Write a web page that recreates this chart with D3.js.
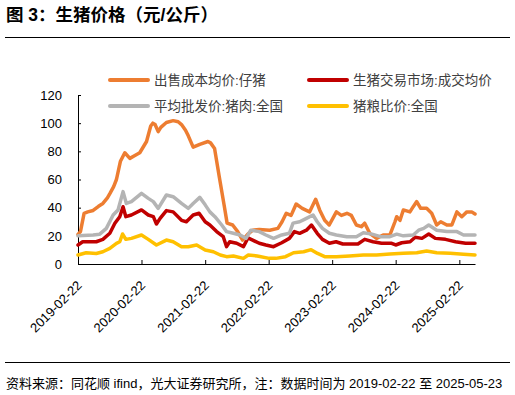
<!DOCTYPE html>
<html>
<head>
<meta charset="utf-8">
<script src="https://cdn.jsdelivr.net/npm/d3@7"></script>
<style>
  body { margin: 0; background: #fff; }
  text { font-family: "Liberation Sans", Arial, "Noto Sans CJK SC", sans-serif; }
</style>
</head>
<body>
<div id="chart"></div>
<script>
// series names (legend order)
const seriesNames = ["出售成本均价:仔猪", "生猪交易市场:成交均价", "平均批发价:猪肉:全国", "猪粮比价:全国"];
const seriesColors = ["#ED7D31", "#C00000", "#B4B4B4", "#FFC000"];

// values, [date, value]
const pigletCost = [
  ["2019-02-22",21],["2019-03-08",23],["2019-03-29",36],["2019-04-19",37],["2019-05-20",38],
  ["2019-06-20",41],["2019-07-15",43],["2019-08-10",47],["2019-08-24",50],["2019-09-15",55],
  ["2019-10-01",60],["2019-10-24",73],["2019-11-18",79],["2019-12-17",75],["2020-01-15",77],
  ["2020-02-12",79],["2020-03-22",87],["2020-04-15",98],["2020-04-27",100],["2020-05-10",99],
  ["2020-05-28",94],["2020-06-12",97],["2020-07-14",100.5],["2020-08-22",101.8],["2020-09-20",101],
  ["2020-10-09",99],["2020-11-01",95],["2020-11-17",91],["2020-12-15",83],["2021-01-22",85],
  ["2021-03-10",87],["2021-03-25",86],["2021-04-17",82],["2021-05-14",62],["2021-06-12",41],
  ["2021-06-28",29],["2021-07-30",27.7],["2021-08-28",23],["2021-09-25",17],["2021-10-24",21],
  ["2021-11-22",24],["2021-12-30",24.5],["2022-02-28",24],["2022-04-16",25.3],["2022-05-10",30],
  ["2022-06-03",36],["2022-07-01",34.5],["2022-07-30",42.6],["2022-09-03",39.5],["2022-10-15",37],
  ["2022-11-19",46],["2022-12-12",38.4],["2023-01-10",31],["2023-02-05",27.7],["2023-03-18",37],
  ["2023-04-16",34.5],["2023-05-18",36],["2023-06-12",34.5],["2023-07-11",27.7],["2023-08-09",26.5],
  ["2023-08-28",29],["2023-09-26",21.8],["2023-11-04",18.2],["2023-12-12",20.6],["2024-01-20",20.6],
  ["2024-02-18",30],["2024-02-28",33.6],["2024-03-18",31],["2024-04-06",38.4],["2024-05-14",37],
  ["2024-06-02",40.7],["2024-06-22",44.3],["2024-07-15",39.5],["2024-08-18",39.5],["2024-09-16",36],
  ["2024-10-15",27.7],["2024-11-07",30],["2024-12-12",27.7],["2025-01-10",27.7],["2025-02-08",37],
  ["2025-03-08",33.6],["2025-04-06",37],["2025-05-04",37],["2025-05-23",35.5]
];

const marketPrice = [
  ["2019-02-22",13.5],["2019-03-21",15.8],["2019-06-07",15.8],["2019-07-15",17.5],["2019-08-24",21.8],
  ["2019-09-22",28.9],["2019-10-20",33.6],["2019-11-08",40.7],["2019-11-24",33.6],["2019-12-26",34.8],
  ["2020-02-22",38.4],["2020-04-01",34.8],["2020-04-30",33.6],["2020-05-18",28.4],["2020-06-08",32.4],
  ["2020-07-14",37.9],["2020-08-22",37],["2020-10-09",31],["2020-11-06",30],["2020-12-15",34.8],
  ["2021-01-18",36],["2021-02-22",30],["2021-03-21",27.7],["2021-04-29",23],["2021-06-06",19.4],
  ["2021-06-25",12.3],["2021-07-13",15.8],["2021-08-22",14.7],["2021-09-30",12.3],["2021-10-26",18.5],
  ["2021-11-22",17],["2021-12-30",14.7],["2022-02-06",13.5],["2022-03-22",12.3],["2022-05-08",15.1],
  ["2022-06-21",18.2],["2022-07-20",23],["2022-08-19",21.8],["2022-09-27",24],["2022-10-26",27.7],
  ["2022-11-28",21.8],["2022-12-28",17.5],["2023-02-06",14.7],["2023-03-16",15.8],["2023-04-24",14.2],
  ["2023-07-20",14.2],["2023-08-28",17.5],["2023-10-15",15.8],["2023-12-03",14.7],["2024-01-30",14.7],
  ["2024-02-22",13.5],["2024-03-28",15.1],["2024-05-15",15.8],["2024-06-13",19],["2024-07-22",18.2],
  ["2024-08-30",21.3],["2024-10-07",18.2],["2024-12-04",17.5],["2025-01-31",15.8],["2025-03-30",14.7],
  ["2025-05-23",14.7]
];

const porkWholesale = [
  ["2019-02-22",20],["2019-05-20",20.6],["2019-06-27",21.2],["2019-08-04",25.3],["2019-09-12",34.8],
  ["2019-10-10",38.4],["2019-11-08",51.4],["2019-11-27",43],["2019-12-26",44.3],["2020-02-22",50.2],
  ["2020-04-01",46.6],["2020-04-30",44.3],["2020-05-28",39.5],["2020-07-14",49],["2020-08-22",47.8],
  ["2020-10-09",43],["2020-11-17",39.5],["2020-12-15",43],["2021-01-22",47.3],["2021-02-22",42],
  ["2021-03-21",37],["2021-04-19",33.6],["2021-05-28",27.7],["2021-06-25",23],["2021-08-03",21.8],
  ["2021-09-11",20.6],["2021-10-15",18.2],["2021-11-11",24],["2021-12-30",23],["2022-02-06",20.6],
  ["2022-03-22",18.2],["2022-05-08",20.6],["2022-06-21",21.8],["2022-07-12",29],["2022-08-19",30],
  ["2022-09-27",32.4],["2022-11-04",34.8],["2022-11-28",30],["2022-12-28",25.3],["2023-02-06",21.8],
  ["2023-03-18",20.6],["2023-05-17",19.4],["2023-07-11",19.4],["2023-08-20",22.2],["2023-10-09",21.2],
  ["2023-11-27",19.4],["2024-01-20",19.4],["2024-02-28",21.2],["2024-04-06",20],["2024-06-02",20.6],
  ["2024-07-03",24],["2024-08-01",25.3],["2024-08-30",27.7],["2024-10-15",24],["2024-12-12",23],
  ["2025-02-08",23],["2025-03-18",20.6],["2025-05-23",20.6]
];

const hogGrainRatio = [
  ["2019-02-22",6.4],["2019-04-10",8],["2019-06-07",7.5],["2019-07-15",8.7],["2019-08-24",11.1],
  ["2019-10-01",14.7],["2019-10-20",15.8],["2019-11-05",21.3],["2019-11-24",17.5],["2019-12-26",18.2],
  ["2020-02-22",20.6],["2020-04-01",17.5],["2020-05-18",13.5],["2020-07-14",17],["2020-08-22",15.8],
  ["2020-10-09",12.3],["2020-11-17",12.3],["2021-01-04",13.5],["2021-02-22",9.9],["2021-04-10",8.7],
  ["2021-05-20",6.4],["2021-06-25",5.2],["2021-08-03",5.7],["2021-09-30",4.0],["2021-10-28",6.4],
  ["2021-12-18",5.7],["2022-02-25",4.0],["2022-04-04",4],["2022-05-30",5.2],["2022-07-15",8],
  ["2022-09-11",8.7],["2022-10-24",10.2],["2022-11-30",7.5],["2023-01-10",5.2],["2023-03-18",5.2],
  ["2023-06-02",5.7],["2023-08-20",6.4],["2023-11-04",6.4],["2024-01-20",7.1],["2024-04-06",7.6],
  ["2024-06-22",8],["2024-08-18",9.2],["2024-10-15",8],["2024-12-31",7.6],["2025-03-18",7],
  ["2025-05-23",6.4]
];

const yTicks = [0, 20, 40, 60, 80, 100, 120];
const xTicks = ["2019-02-22","2020-02-22","2021-02-22","2022-02-22","2023-02-22","2024-02-22","2025-02-22"];
const dateRange = ["2019-02-22", "2025-05-23"];

const W = 515, H = 395;
const parse = d3.timeParse("%Y-%m-%d");
const fmt = d3.timeFormat("%Y-%m-%d");

const svg = d3.select("#chart").append("svg")
  .attr("width", W).attr("height", H);

// title + rules
svg.append("text")
  .attr("x", 6).attr("y", 21)
  .attr("font-size", 17.5).attr("font-weight", "bold").attr("fill", "#000")
  .text("图 3：生猪价格（元/公斤）");
svg.append("line").attr("x1", 5).attr("x2", 510).attr("y1", 37.5).attr("y2", 37.5)
  .attr("stroke", "#000").attr("stroke-width", 1);
svg.append("line").attr("x1", 5).attr("x2", 510).attr("y1", 362.5).attr("y2", 362.5)
  .attr("stroke", "#000").attr("stroke-width", 1);
svg.append("text")
  .attr("x", 6).attr("y", 388)
  .attr("font-size", 13).attr("fill", "#000")
  .text("资料来源：同花顺 ifind，光大证券研究所，注：数据时间为 2019-02-22 至 2025-05-23");

// scales
const x = d3.scaleTime()
  .domain(dateRange.map(parse))
  .range([78, 475]);
const y = d3.scaleLinear()
  .domain([0, 120])
  .range([264, 95]);

// axes
const gx = svg.append("g").attr("transform", "translate(0,264)")
  .call(d3.axisBottom(x)
    .tickValues(xTicks.map(parse))
    .tickFormat(fmt)
    .tickSizeInner(-4).tickSizeOuter(0));
gx.select(".domain").attr("stroke", "#000");
gx.selectAll(".tick line").attr("stroke", "#000");
gx.selectAll(".tick text")
  .attr("font-size", 13).attr("fill", "#000")
  .attr("text-anchor", "end")
  .attr("dx", 0).attr("dy", 0)
  .attr("transform", "translate(2,20) rotate(-45)");

const gy = svg.append("g").attr("transform", "translate(78,0)")
  .call(d3.axisLeft(y)
    .tickValues(yTicks)
    .tickSizeInner(-3).tickSizeOuter(0)
    .tickPadding(16));
gy.select(".domain").attr("stroke", "#000");
gy.selectAll(".tick line").attr("stroke", "#000");
gy.selectAll(".tick text").attr("font-size", 13).attr("fill", "#000");

// lines
const allSeries = [pigletCost, marketPrice, porkWholesale, hogGrainRatio];
const line = d3.line()
  .x(d => x(parse(d[0])))
  .y(d => y(d[1]));

allSeries.forEach((data, i) => {
  svg.append("path")
    .datum(data)
    .attr("fill", "none")
    .attr("stroke", seriesColors[i])
    .attr("stroke-width", 3.5)
    .attr("stroke-linejoin", "round")
    .attr("stroke-linecap", "round")
    .attr("d", line);
});

// legend
const legendPos = [[110, 80], [309, 80], [110, 106], [309, 106]];
const legend = svg.append("g");
seriesNames.forEach((name, i) => {
  const [lx, ly] = legendPos[i];
  legend.append("line")
    .attr("x1", lx).attr("x2", lx + 38).attr("y1", ly).attr("y2", ly)
    .attr("stroke", seriesColors[i]).attr("stroke-width", 4)
    .attr("stroke-linecap", "round");
  legend.append("text")
    .attr("x", lx + 44).attr("y", ly + 5)
    .attr("font-size", 13.5).attr("fill", "#404040")
    .text(name);
});
</script>
</body>
</html>
